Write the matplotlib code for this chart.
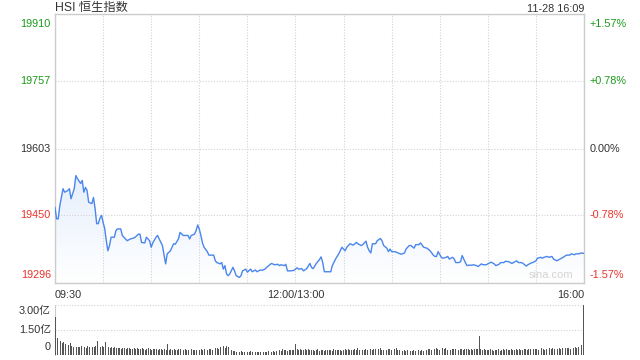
import numpy as np
import matplotlib.pyplot as plt
from matplotlib.colors import LinearSegmentedColormap

plt.rcParams['font.family'] = ['Liberation Sans', 'Noto Sans CJK SC', 'DejaVu Sans']

# 数据：分钟序号（09:30 起，午休已去掉）与恒指点位
prev_close = 19603
pct_max = 0.0157
minutes = [0, 1, 2, 3, 5, 6, 8, 9, 10, 12, 13, 14, 16, 17, 18, 19, 20, 21, 23, 24,
           25, 26, 27, 28, 29, 30, 31, 32, 33, 34, 35, 37, 38, 39, 41, 42, 43, 45, 47, 49,
           50, 52, 53, 54, 56, 57, 59, 60, 61, 63, 64, 65, 67, 69, 70, 72, 74, 75, 77, 78,
           80, 82, 83, 84, 85, 87, 88, 89, 90, 91, 92, 93, 95, 96, 97, 99, 100, 101, 103, 104,
           105, 106, 107, 108, 109, 111, 112, 113, 115, 116, 117, 119, 120, 122, 123, 125, 126, 128, 129, 131,
           132, 135, 137, 139, 140, 141, 143, 144, 145, 147, 149, 151, 152, 154, 155, 157, 159, 160, 161, 163,
           165, 166, 167, 168, 170, 172, 173, 175, 176, 177, 179, 180, 181, 182, 184, 186, 188, 189, 191, 192,
           194, 195, 196, 197, 198, 200, 201, 203, 204, 205, 207, 208, 209, 210, 212, 214, 216, 218, 219, 221,
           222, 224, 225, 227, 228, 230, 232, 234, 236, 237, 238, 239, 241, 242, 244, 245, 246, 248, 249, 250,
           252, 253, 254, 256, 257, 258, 260, 261, 263, 264, 266, 267, 269, 271, 272, 274, 275, 277, 278, 280,
           281, 283, 285, 286, 288, 289, 291, 292, 294, 295, 297, 298, 300, 301, 303, 304, 305, 307, 308, 310,
           311, 313, 314, 316, 317, 319, 321, 322, 324, 325, 327, 328, 330]
prices = [19468, 19442, 19442, 19472, 19511, 19503, 19507, 19511, 19488, 19511, 19541, 19534, 19523, 19530, 19503, 19514, 19507, 19480, 19477, 19491,
          19466, 19431, 19431, 19443, 19450, 19434, 19420, 19392, 19369, 19381, 19400, 19400, 19415, 19419, 19419, 19404, 19400, 19392, 19396, 19398,
          19400, 19407, 19407, 19388, 19387, 19400, 19392, 19377, 19387, 19400, 19404, 19396, 19381, 19339, 19362, 19369, 19385, 19384, 19396, 19411,
          19404, 19404, 19404, 19396, 19404, 19407, 19415, 19428, 19419, 19404, 19387, 19377, 19367, 19359, 19359, 19359, 19346, 19342, 19339, 19342,
          19327, 19335, 19316, 19312, 19316, 19331, 19323, 19312, 19308, 19312, 19323, 19327, 19320, 19327, 19321, 19325, 19321, 19325, 19324, 19327,
          19331, 19340, 19337, 19338, 19335, 19337, 19335, 19338, 19323, 19323, 19324, 19330, 19327, 19328, 19323, 19328, 19340, 19331, 19328, 19340,
          19349, 19355, 19342, 19321, 19321, 19321, 19335, 19350, 19356, 19362, 19377, 19373, 19369, 19377, 19385, 19382, 19388, 19385, 19381, 19383,
          19391, 19377, 19369, 19364, 19385, 19385, 19392, 19397, 19392, 19381, 19375, 19367, 19373, 19367, 19367, 19364, 19361, 19364, 19373, 19381,
          19381, 19375, 19383, 19383, 19387, 19377, 19375, 19369, 19359, 19356, 19356, 19367, 19354, 19352, 19354, 19356, 19350, 19354, 19350, 19342,
          19342, 19344, 19358, 19342, 19335, 19336, 19336, 19337, 19335, 19333, 19339, 19337, 19337, 19341, 19343, 19339, 19335, 19338, 19342, 19342,
          19345, 19344, 19340, 19342, 19346, 19342, 19342, 19340, 19334, 19337, 19341, 19342, 19346, 19352, 19354, 19352, 19354, 19356, 19354, 19356,
          19350, 19346, 19348, 19352, 19354, 19359, 19359, 19362, 19360, 19362, 19362, 19364, 19363]

# 成交额（亿），每分钟一根
volumes = [2.30, 1.00, 0.76, 0.84, 0.70, 0.76, 0.64, 0.70, 0.60, 0.70,
           0.52, 0.48, 0.55, 0.50, 0.46, 0.50, 0.53, 0.47, 0.50, 0.44,
           0.52, 0.48, 0.50, 0.46, 0.49, 0.52, 0.84, 0.50, 0.46, 0.52,
           0.48, 0.76, 1.26, 0.50, 0.45, 0.48, 0.42, 0.46, 0.44, 0.40,
           0.42, 0.38, 0.44, 0.40, 0.36, 0.42, 0.40, 0.38, 0.35, 0.40,
           0.37, 0.42, 0.36, 0.34, 0.40, 0.38, 0.33, 0.36, 0.40, 0.35,
           0.32, 0.36, 0.34, 0.38, 0.30, 0.34, 0.36, 0.32, 0.35, 0.33,
           0.66, 0.30, 0.34, 0.31, 0.36, 0.32, 0.29, 0.34, 0.38, 0.31,
           0.30, 0.35, 0.33, 0.28, 0.34, 0.36, 0.30, 0.32, 0.29, 0.35,
           0.31, 0.34, 0.30, 0.36, 0.33, 0.29, 0.35, 0.38, 0.32, 0.36,
           0.40, 0.45, 0.38, 0.48, 0.42, 0.52, 0.44, 0.56, 0.46, 0.40,
           0.28, 0.24, 0.22, 0.20, 0.23, 0.19, 0.22, 0.20, 0.18, 0.21,
           0.20, 0.17, 0.22, 0.19, 0.18, 0.21, 0.20, 0.17, 0.19, 0.22,
           0.18, 0.20, 0.19, 0.23, 0.18, 0.21, 0.24, 0.20, 0.22, 0.26,
           0.30, 0.26, 0.34, 0.28, 0.31, 0.27, 0.33, 0.30, 0.28, 0.32,
           0.64, 0.34, 0.30, 0.36, 0.32, 0.28, 0.34, 0.31, 0.36, 0.30,
           0.28, 0.32, 0.26, 0.30, 0.34, 0.25, 0.29, 0.32, 0.27, 0.30,
           0.33, 0.28, 0.31, 0.26, 0.35, 0.30, 0.28, 0.33, 0.29, 0.27,
           0.31, 0.34, 0.28, 0.36, 0.30, 0.33, 0.29, 0.38, 0.32, 0.45,
           0.30, 0.34, 0.28, 0.32, 0.36, 0.29, 0.33, 0.38, 0.30, 0.34,
           0.36, 0.31, 0.35, 0.40, 0.33, 0.30, 0.36, 0.32, 0.38, 0.34,
           0.30, 0.35, 0.38, 0.45, 0.33, 0.29, 0.31, 0.27, 0.30, 0.25,
           0.28, 0.24, 0.27, 0.23, 0.29, 0.26, 0.22, 0.28, 0.25, 0.30,
           0.27, 0.32, 0.29, 0.35, 0.38, 0.31, 0.40, 0.34, 0.42, 0.36,
           0.33, 0.38, 0.45, 0.35, 0.40, 0.33, 0.37, 0.32, 0.36, 0.39,
           0.34, 0.37, 0.33, 0.38, 0.35, 0.32, 0.36, 0.34, 0.38, 0.33,
           0.35, 0.31, 0.36, 0.34, 0.37, 1.14, 0.36, 0.30, 0.34, 0.31,
           0.33, 0.29, 0.36, 0.30, 0.27, 0.32, 0.29, 0.34, 0.26, 0.31,
           0.37, 0.30, 0.34, 0.28, 0.32, 0.36, 0.33, 0.29, 0.35, 0.31,
           0.38, 0.33, 0.30, 0.36, 0.34, 0.31, 0.37, 0.35, 0.30, 0.36,
           0.34, 0.38, 0.32, 0.36, 0.40, 0.35, 0.33, 0.38, 0.36, 0.41,
           0.37, 0.40, 0.35, 0.42, 0.38, 0.41, 0.36, 0.43, 0.39, 0.42,
           0.40, 0.44, 0.38, 0.45, 0.41, 0.46, 0.42, 0.47, 0.44, 0.60, 3.00]

price_labels = ['19296', '19450', '19603', '19757', '19910']
pct_labels = ['-1.57%', '-0.78%', '0.00%', '+0.78%', '+1.57%']
x_ticks = [0, 150, 330]
x_labels = ['09:30', '12:00/13:00', '16:00']
vol_labels = ['0', '1.50亿', '3.00亿']
title = 'HSI 恒生指数'
stamp = '11-28 16:09'

W, H = 640, 360
fig = plt.figure(figsize=(W / 100, H / 100), dpi=100)
fig.patch.set_facecolor('white')

def box(l, t, r, b):
    return [l / W, 1 - b / H, (r - l) / W, (b - t) / H]

green = '#1a9a1a'
red = '#e8322b'
dark = '#333333'
grid_c = '#d2d2d2'
spine_c = '#cccccc'

# 分时主图
ax = fig.add_axes(box(55, 14, 584, 283))
ylo = prev_close * (1 - pct_max)
yhi = prev_close * (1 + pct_max)
ax.set_xlim(0, 330)
ax.set_ylim(ylo, yhi)

# 渐变填充
poly = ax.fill_between(minutes, prices, ylo, color='none')
cmap = LinearSegmentedColormap.from_list('f', ['#ffffff', '#e6effc'])
grad = np.linspace(0, 1, 256).reshape(-1, 1)
img = ax.imshow(grad, extent=[0, 330, ylo, max(prices)], origin='lower',
                aspect='auto', cmap=cmap, zorder=1)
img.set_clip_path(poly.get_paths()[0], transform=ax.transData)
ax.plot(minutes, prices, color='#4a86ec', lw=1.0, zorder=3)

price_ticks = [float(s) for s in price_labels]
ax.set_yticks(price_ticks)
ax.set_xticks(np.arange(0, 331, 30))
ax.grid(True, color=grid_c, linestyle=(0, (1, 1.5)), lw=0.8)
ax.tick_params(length=0, labelleft=False, labelbottom=False)
for s in ax.spines.values():
    s.set_color(spine_c)
    s.set_linewidth(1)

for i, (v, lab, plab) in enumerate(zip(price_ticks, price_labels, pct_labels)):
    c = red if i < 2 else (green if i > 2 else dark)
    va = 'top' if i == 4 else ('bottom' if i == 0 else 'center')
    off = -3 if i == 4 else (2 if i == 0 else 0)
    ax.annotate(lab, xy=(0, v), xycoords='data', xytext=(-3, off),
                textcoords='offset points', ha='right', va=va, color=c, fontsize=7.8)
    ax.annotate(plab, xy=(330, v), xycoords='data', xytext=(4, off),
                textcoords='offset points', ha='left', va=va, color=c, fontsize=7.8)

for t, lab in zip(x_ticks, x_labels):
    ha = 'left' if t == 0 else ('right' if t == 330 else 'center')
    ax.annotate(lab, xy=(t, ylo), xycoords='data', xytext=(0, -5),
                textcoords='offset points', ha=ha, va='top', color=dark, fontsize=7.8)

ax.text(0.98, 0.028, 'sina.com', transform=ax.transAxes, ha='right', va='center',
        color='#d4d4d4', fontsize=8)

fig.text(55 / W, 1 - 8 / H, title, ha='left', va='center', color=dark, fontsize=8.8)
fig.text(584 / W, 1 - 9 / H, stamp, ha='right', va='center', color=dark, fontsize=7.8)

# 成交量副图
av = fig.add_axes(box(55, 305, 584, 355))
av.bar(np.arange(len(volumes)), volumes, width=0.55, color='#555555', zorder=3)
av.set_xlim(-0.5, 330.5)
av.set_ylim(0, 3.0)
av.set_yticks([1.5, 3.0])
av.set_xticks([])
av.grid(True, axis='y', color=grid_c, linestyle=(0, (1, 1.5)), lw=0.8)
av.tick_params(length=0, labelleft=False)
for k, s in av.spines.items():
    s.set_visible(k == 'left')
av.spines['left'].set_color(spine_c)
for v, lab, va, off in [(0, vol_labels[0], 'bottom', 2), (1.5, vol_labels[1], 'center', 0),
                        (3.0, vol_labels[2], 'top', -1)]:
    av.annotate(lab, xy=(0, v), xycoords=('axes fraction', 'data'), xytext=(-3, off),
                textcoords='offset points', ha='right', va=va, color=dark, fontsize=7.8)

fig.savefig('out.png', dpi=100)
